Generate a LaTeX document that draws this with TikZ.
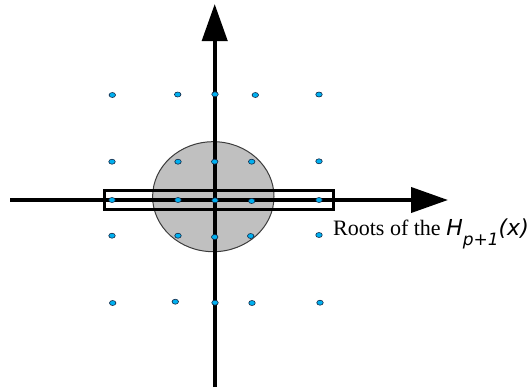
\documentclass[tikz,border=0pt]{standalone}
\usepackage{fontspec}
\setmainfont{Liberation Serif}
\newfontfamily\hfont{DejaVu Sans}
\usetikzlibrary{arrows.meta,shapes.geometric}
\definecolor{dotblue}{RGB}{0,176,240}
\definecolor{dotedge}{RGB}{20,40,70}
\definecolor{discgray}{RGB}{192,192,192}
\definecolor{discedge}{RGB}{60,60,60}
\tikzset{
  axis/.style={line width=4pt,-{Triangle[length=37pt,width=25pt]}},
  root/.style={ellipse,draw=dotedge,line width=0.6pt,fill=dotblue,minimum width=6.5pt,minimum height=5pt,inner sep=0pt},
  disc/.style={draw=discedge,line width=1pt,fill=discgray},
  band/.style={draw=black,line width=3pt},
  label/.style={anchor=base west,inner sep=0pt,font=\fontsize{22}{26}\selectfont},
}
\begin{document}
\begin{tikzpicture}[x=1pt,y=-1pt]
\useasboundingbox (0,0) rectangle (530,391);
% disc
\node[disc,ellipse,minimum width=121.4pt,minimum height=110pt,inner sep=0pt] (disc) at (213.3,196.7) {};
% band
\node[band,rectangle,minimum width=229pt,minimum height=18.6pt,inner sep=0pt] (band) at (218.5,200) {};
% axes
\coordinate (xs) at (10,200);
\coordinate (xe) at (448,200);
\coordinate (ys) at (214.7,387);
\coordinate (ye) at (214.7,4);
\draw[axis] (xs) -- (xe);
\draw[axis] (ys) -- (ye);
% roots
\node[root] (r11) at (112.3,95) {};
\node[root] (r12) at (177.7,94.5) {};
\node[root] (r13) at (215,94.3) {};
\node[root] (r14) at (255.3,95) {};
\node[root] (r15) at (319,94.5) {};
\node[root] (r21) at (112,161.7) {};
\node[root] (r22) at (178,161.7) {};
\node[root] (r23) at (214.7,161.7) {};
\node[root] (r24) at (251.7,161.7) {};
\node[root] (r25) at (319,161.3) {};
\node[root] (r31) at (112,200) {};
\node[root] (r32) at (178,200) {};
\node[root] (r33) at (215,200.3) {};
\node[root] (r34) at (251.7,201) {};
\node[root] (r35) at (319,200) {};
\node[root] (r41) at (112,235.7) {};
\node[root] (r42) at (178,235.7) {};
\node[root] (r43) at (214.7,237) {};
\node[root] (r44) at (250.7,236) {};
\node[root] (r45) at (319,235) {};
\node[root] (r51) at (112.7,303) {};
\node[root] (r52) at (175.3,301.7) {};
\node[root] (r53) at (215,302.7) {};
\node[root] (r54) at (252,303) {};
\node[root] (r55) at (320,302.7) {};
% label
\node[label] (roots) at (333,235) {Roots of the {\hfont\itshape H\raisebox{-10pt}{\fontsize{17}{17}\selectfont p+1}(x)}};
\end{tikzpicture}
\end{document}
